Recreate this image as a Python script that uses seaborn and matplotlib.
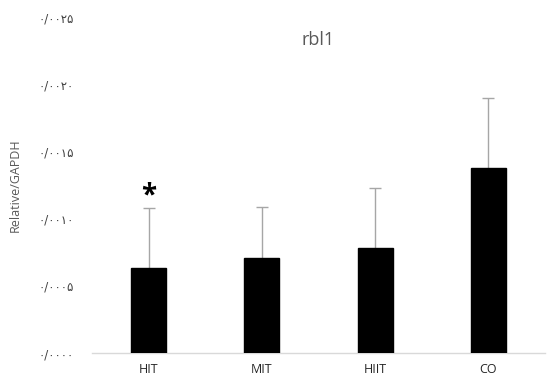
import matplotlib
matplotlib.use("Agg")
import matplotlib.pyplot as plt
import seaborn as sns
import pandas as pd

categories = ["HIT", "MIT", "HIIT", "CO"]
means = [0.0063, 0.0071, 0.0078, 0.0138]
err_upper = [0.0045, 0.0038, 0.0045, 0.0052]
ytick_values = [0.0, 0.005, 0.010, 0.015, 0.020, 0.025]
ytick_labels = ["۰/۰۰۰۰", "۰/۰۰۰۵", "۰/۰۰۱۰", "۰/۰۰۱۵", "۰/۰۰۲۰", "۰/۰۰۲۵"]
title = "rbl1"
ylabel = "Relative/GAPDH"

sns.set_theme(style="white")
plt.rcParams["font.family"] = ["Open Sans", "DejaVu Sans"]

df = pd.DataFrame({"group": categories, "value": means})

fig = plt.figure(figsize=(5.47, 3.79), dpi=100)
ax = fig.add_axes([0.1682, 0.0686, 0.828, 0.8865])

sns.barplot(data=df, x="group", y="value", color="black", width=0.31,
            saturation=1, ax=ax, errorbar=None, zorder=3)
for p in ax.patches:
    p.set_edgecolor("black")

eb = ax.errorbar(range(len(categories)), means,
                 yerr=[[0] * len(means), err_upper],
                 fmt="none", ecolor="#a6a6a6", elinewidth=1.0, capsize=4,
                 capthick=1.0, zorder=2)
caplines = eb[1]
if len(caplines) >= 2:
    caplines[0].set_visible(False)

ax.text(0, means[0] + err_upper[0] - 0.0002, "*", ha="center", va="bottom",
        fontsize=20, color="black", fontweight="bold")

ax.set_xlim(-0.5, 3.5)
ax.set_ylim(0, 0.025)
ax.set_yticks(ytick_values)
ax.set_yticklabels(ytick_labels, family=["DejaVu Sans"], fontsize=8.5, color="#404040")
ax.tick_params(axis="y", length=0, pad=13)
ax.tick_params(axis="x", length=0, pad=7, labelsize=9, labelcolor="#262626")
ax.set_xlabel("")
ax.set_ylabel(ylabel, fontsize=9, color="#595959", labelpad=12)

for s in ["top", "right", "left"]:
    ax.spines[s].set_visible(False)
ax.spines["bottom"].set_color("#d9d9d9")
ax.spines["bottom"].set_linewidth(1.0)

fig.text(318 / 547, 1 - 40 / 379, title, ha="center", va="center",
         fontsize=13, color="#595959")

fig.savefig("out.png", dpi=100)
